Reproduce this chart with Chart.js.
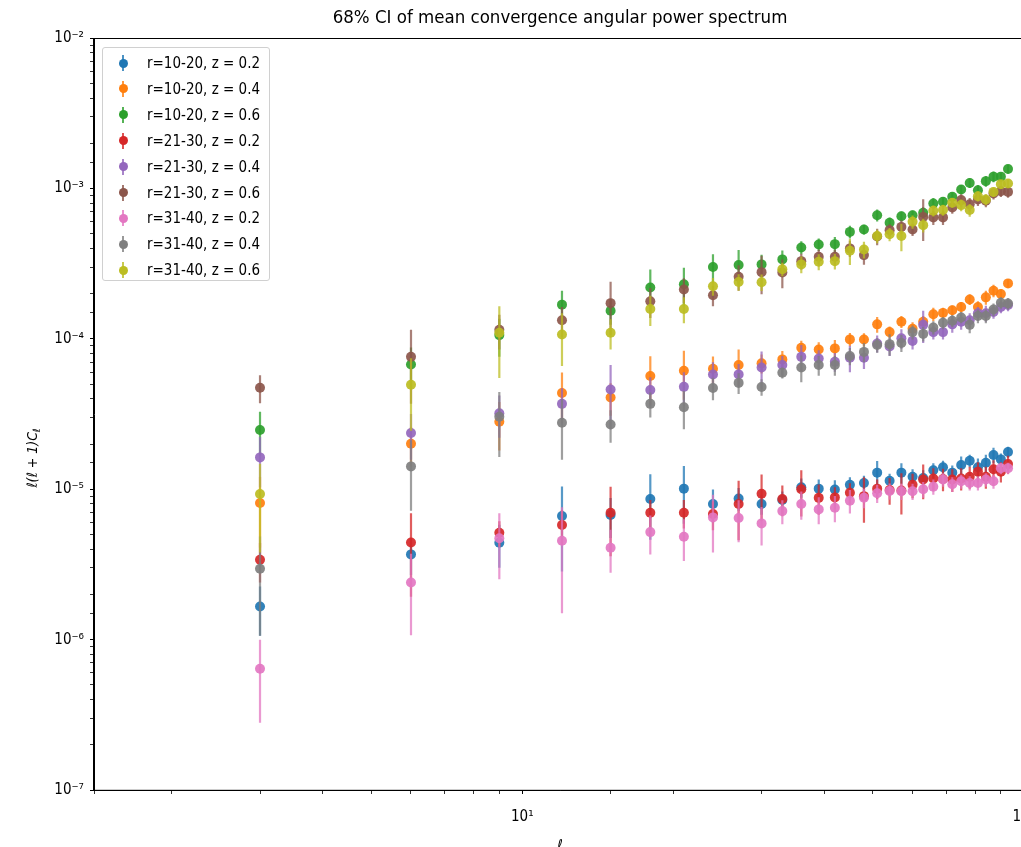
<!DOCTYPE html>
<html>
<head>
<meta charset="utf-8">
<script src="https://cdn.jsdelivr.net/npm/chart.js@4.4.0/dist/chart.umd.min.js"></script>
<style>
  html, body { margin: 0; padding: 0; background: #fff; overflow: hidden; }
  #wrap { position: relative; width: 1040px; height: 855px; }
  #legend { position: absolute; left: 102px; top: 47px; width: 166px; height: 232px;
            border: 1px solid #d0d0d0; border-radius: 3px; background: rgba(255,255,255,0.8);
            font: 15px 'DejaVu Sans Condensed', 'DejaVu Sans', sans-serif; color: #000; }
  .row { position: absolute; left: 0; width: 166px; height: 20px; line-height: 20px; }
  .bar { position: absolute; left: 19px; top: 2px; width: 2px; height: 16px; }
  .dot { position: absolute; left: 15.5px; top: 5.5px; width: 9px; height: 9px; border-radius: 50%; }
  .txt { position: absolute; left: 44px; top: 0; white-space: nowrap; }
</style>
</head>
<body>
<div id="wrap">
  <canvas id="c" width="1040" height="855"></canvas>
  <div id="legend"></div>
</div>
<script>
// multipoles
const ell = [3, 6, 9, 12, 15, 18, 21, 24, 27, 30, 33, 36, 39, 42, 45, 48, 51, 54, 57, 60, 63, 66, 69, 72, 75, 78, 81, 84, 87, 90, 93];

// r=10-20
const r1020_z02 = [1.66e-6, 3.69e-6, 4.41e-6, 6.64e-6, 6.75e-6, 8.61e-6, 1.01e-5, 7.98e-6, 8.69e-6, 7.98e-6, 8.48e-6, 1.03e-5, 1.01e-5, 9.97e-6, 1.07e-5, 1.10e-5, 1.29e-5, 1.14e-5, 1.29e-5, 1.21e-5, 1.19e-5, 1.34e-5, 1.40e-5, 1.29e-5, 1.45e-5, 1.55e-5, 1.40e-5, 1.50e-5, 1.69e-5, 1.58e-5, 1.77e-5];
const r1020_z02_err = [0.6e-6, 1.0e-6, 1.4e-6, 3.8e-6, 2.0e-6, 4.0e-6, 4.2e-6, 2.0e-6, 1.5e-6, 1.2e-6, 1.2e-6, 1.5e-6, 1.5e-6, 1.5e-6, 1.3e-6, 1.3e-6, 2.5e-6, 1.3e-6, 2.0e-6, 1.5e-6, 1.5e-6, 1.5e-6, 1.5e-6, 1.5e-6, 2.0e-6, 1.5e-6, 2.0e-6, 2.0e-6, 2.0e-6, 1.5e-6, 1.5e-6];
const r1020_z04 = [8.1e-6, 2.01e-5, 2.81e-5, 4.37e-5, 4.08e-5, 5.66e-5, 6.14e-5, 6.33e-5, 6.70e-5, 6.88e-5, 7.31e-5, 8.73e-5, 8.51e-5, 8.65e-5, 9.93e-5, 9.9e-5, 1.25e-4, 1.11e-4, 1.30e-4, 1.17e-4, 1.30e-4, 1.46e-4, 1.49e-4, 1.55e-4, 1.63e-4, 1.83e-4, 1.63e-4, 1.89e-4, 2.09e-4, 1.99e-4, 2.34e-4];
const r1020_z04_err = [4e-6, 6e-6, 1e-5, 1.6e-5, 1e-5, 2e-5, 2.2e-5, 1.3e-5, 1.8e-5, 1e-5, 1e-5, 1e-5, 1e-5, 1.2e-5, 1e-5, 1e-5, 1.5e-5, 1e-5, 1.2e-5, 1.2e-5, 1.2e-5, 1.5e-5, 1.2e-5, 1.2e-5, 1.3e-5, 1.5e-5, 1.5e-5, 2e-5, 2e-5, 1.5e-5, 1.5e-5];
const r1020_z06 = [2.48e-5, 6.76e-5, 1.06e-4, 1.69e-4, 1.54e-4, 2.20e-4, 2.31e-4, 3.01e-4, 3.10e-4, 3.13e-4, 3.38e-4, 4.06e-4, 4.25e-4, 4.27e-4, 5.15e-4, 5.34e-4, 6.65e-4, 5.92e-4, 6.55e-4, 6.65e-4, 6.9e-4, 7.96e-4, 8.17e-4, 8.81e-4, 9.86e-4, 1.09e-3, 9.75e-4, 1.12e-3, 1.20e-3, 1.20e-3, 1.35e-3];
const r1020_z06_err = [8e-6, 2e-5, 3e-5, 4e-5, 3e-5, 7e-5, 6.6e-5, 6.5e-5, 8e-5, 5e-5, 5e-5, 4e-5, 4e-5, 5e-5, 5e-5, 4e-5, 6e-5, 5e-5, 5e-5, 5e-5, 6e-5, 7e-5, 6e-5, 6e-5, 7e-5, 8e-5, 8e-5, 9e-5, 1e-4, 8e-5, 9e-5];

// r=21-30
const r2130_z02 = [3.4e-6, 4.43e-6, 5.14e-6, 5.78e-6, 6.98e-6, 6.98e-6, 6.98e-6, 6.84e-6, 7.98e-6, 9.33e-6, 8.61e-6, 1.0e-5, 8.77e-6, 8.83e-6, 9.47e-6, 9.0e-6, 1.01e-5, 9.9e-6, 9.8e-6, 1.07e-5, 1.16e-5, 1.18e-5, 1.17e-5, 1.16e-5, 1.18e-5, 1.21e-5, 1.31e-5, 1.21e-5, 1.36e-5, 1.31e-5, 1.47e-5];
const r2130_z02_err = [1e-6, 2.5e-6, 1e-6, 1.5e-6, 3.4e-6, 1.5e-6, 1.5e-6, 1.5e-6, 3.4e-6, 3.2e-6, 2e-6, 3.4e-6, 2e-6, 1.5e-6, 1.5e-6, 3e-6, 1.5e-6, 2e-6, 3e-6, 2e-6, 3e-6, 2e-6, 2e-6, 2e-6, 2e-6, 2e-6, 2e-6, 2e-6, 2e-6, 2e-6, 2e-6];
const r2130_z04 = [1.63e-5, 2.37e-5, 3.2e-5, 3.7e-5, 4.61e-5, 4.57e-5, 4.80e-5, 5.8e-5, 5.81e-5, 6.46e-5, 6.70e-5, 7.60e-5, 7.41e-5, 7.05e-5, 7.5e-5, 7.5e-5, 9.33e-5, 8.9e-5, 1.01e-4, 9.7e-5, 1.24e-4, 1.11e-4, 1.11e-4, 1.25e-4, 1.30e-4, 1.33e-4, 1.48e-4, 1.48e-4, 1.51e-4, 1.63e-4, 1.68e-4];
const r2130_z04_err = [6e-6, 8e-6, 1e-5, 1e-5, 2.1e-5, 1e-5, 1.2e-5, 1.2e-5, 1e-5, 1.8e-5, 1e-5, 1.5e-5, 1e-5, 1e-5, 1.5e-5, 1.2e-5, 1.2e-5, 1.2e-5, 1.5e-5, 1.2e-5, 3e-5, 1.2e-5, 1.2e-5, 1.5e-5, 1.5e-5, 1.5e-5, 1.5e-5, 1.8e-5, 1.5e-5, 1.5e-5, 1.5e-5];
const r2130_z06 = [4.73e-5, 7.6e-5, 1.15e-4, 1.33e-4, 1.73e-4, 1.78e-4, 2.13e-4, 1.95e-4, 2.59e-4, 2.78e-4, 2.77e-4, 3.29e-4, 3.52e-4, 3.52e-4, 4.0e-4, 3.61e-4, 4.8e-4, 5.29e-4, 5.56e-4, 5.34e-4, 6.48e-4, 6.43e-4, 6.43e-4, 7.49e-4, 8.38e-4, 7.87e-4, 8.45e-4, 8.3e-4, 9.26e-4, 9.6e-4, 9.5e-4];
const r2130_z06_err = [1e-5, 3.9e-5, 3e-5, 3e-5, 6.7e-5, 4e-5, 4e-5, 3e-5, 5e-5, 8e-5, 6e-5, 4e-5, 4e-5, 4e-5, 5e-5, 5e-5, 6e-5, 5e-5, 6e-5, 5e-5, 2e-4, 7e-5, 7e-5, 7e-5, 8e-5, 8e-5, 8e-5, 8e-5, 8e-5, 8e-5, 8e-5];

// r=31-40
const r3140_z02 = [6.4e-7, 2.40e-6, 4.72e-6, 4.55e-6, 4.08e-6, 5.19e-6, 4.83e-6, 6.50e-6, 6.44e-6, 5.93e-6, 7.16e-6, 7.98e-6, 7.35e-6, 7.53e-6, 8.39e-6, 8.79e-6, 9.4e-6, 9.73e-6, 9.7e-6, 9.7e-6, 1.0e-5, 1.04e-5, 1.16e-5, 1.08e-5, 1.13e-5, 1.10e-5, 1.10e-5, 1.16e-5, 1.13e-5, 1.38e-5, 1.38e-5];
const r3140_z02_err = [3.6e-7, 1.33e-6, 2.2e-6, 3.05e-6, 1.3e-6, 1.5e-6, 1.5e-6, 2.7e-6, 2e-6, 1.7e-6, 1.3e-6, 1.7e-6, 1.5e-6, 1.5e-6, 1.5e-6, 1.3e-6, 1.3e-6, 1.2e-6, 1.2e-6, 1.2e-6, 1.2e-6, 1.2e-6, 1.2e-6, 1.2e-6, 1.2e-6, 1.2e-6, 1.2e-6, 1.2e-6, 1.2e-6, 1.2e-6, 1.2e-6];
const r3140_z04 = [2.96e-6, 1.42e-5, 3.04e-5, 2.77e-5, 2.70e-5, 3.70e-5, 3.51e-5, 4.71e-5, 5.10e-5, 4.79e-5, 5.96e-5, 6.46e-5, 6.7e-5, 6.70e-5, 7.69e-5, 8.2e-5, 9.1e-5, 9.23e-5, 9.4e-5, 1.11e-4, 1.08e-4, 1.19e-4, 1.28e-4, 1.32e-4, 1.39e-4, 1.24e-4, 1.42e-4, 1.42e-4, 1.57e-4, 1.74e-4, 1.72e-4];
const r3140_z04_err = [1.9e-6, 7e-6, 1.4e-5, 1.2e-5, 6.6e-6, 7e-6, 1e-5, 8e-6, 8e-6, 6e-6, 5e-6, 1.3e-5, 1e-5, 1e-5, 1e-5, 1.2e-5, 1e-5, 1.5e-5, 1.2e-5, 1.2e-5, 1.2e-5, 1.2e-5, 1.2e-5, 1.2e-5, 1.2e-5, 1.5e-5, 1.5e-5, 1.5e-5, 1.5e-5, 1.5e-5, 1.5e-5];
const r3140_z06 = [9.3e-6, 4.95e-5, 1.10e-4, 1.07e-4, 1.10e-4, 1.58e-4, 1.58e-4, 2.24e-4, 2.39e-4, 2.38e-4, 2.91e-4, 3.13e-4, 3.26e-4, 3.29e-4, 3.86e-4, 3.93e-4, 4.83e-4, 4.97e-4, 4.83e-4, 6.01e-4, 5.71e-4, 7.11e-4, 7.2e-4, 8.04e-4, 7.76e-4, 7.2e-4, 8.89e-4, 8.45e-4, 9.5e-4, 1.07e-3, 1.08e-3];
const r3140_z06_err = [5.5e-6, 2.5e-5, 5.5e-5, 4.1e-5, 2.5e-5, 3.6e-5, 3.1e-5, 3e-5, 3e-5, 3e-5, 3e-5, 4e-5, 4e-5, 4e-5, 7.6e-5, 5e-5, 5e-5, 5e-5, 1e-4, 6e-5, 6e-5, 6e-5, 6e-5, 6e-5, 7e-5, 7e-5, 7e-5, 7e-5, 7e-5, 7e-5, 7e-5];

const seriesLabels = ['r=10-20, z = 0.2', 'r=10-20, z = 0.4', 'r=10-20, z = 0.6',
                      'r=21-30, z = 0.2', 'r=21-30, z = 0.4', 'r=21-30, z = 0.6',
                      'r=31-40, z = 0.2', 'r=31-40, z = 0.4', 'r=31-40, z = 0.6'];
const seriesValues = [r1020_z02, r1020_z04, r1020_z06, r2130_z02, r2130_z04, r2130_z06, r3140_z02, r3140_z04, r3140_z06];
const seriesErrors = [r1020_z02_err, r1020_z04_err, r1020_z06_err, r2130_z02_err, r2130_z04_err, r2130_z06_err, r3140_z02_err, r3140_z04_err, r3140_z06_err];
// matplotlib tab10
const colors = ['31,119,180', '255,127,14', '44,160,44', '214,39,40', '148,103,189', '140,86,75', '227,119,194', '127,127,127', '188,189,34'];

const FONT = "'DejaVu Sans Condensed', 'DejaVu Sans', sans-serif";

// tick labels only at powers of ten, like 10⁻²
const sup = { '-': '⁻', '0': '⁰', '1': '¹', '2': '²', '3': '³', '4': '⁴', '5': '⁵', '6': '⁶', '7': '⁷', '8': '⁸', '9': '⁹' };
function powLabel(value) {
  const e = Math.log10(value);
  const r = Math.round(e);
  if (Math.abs(e - r) > 1e-6) return '';
  return '10' + String(r).split('').map(c => sup[c]).join('');
}

// vertical error bars drawn just before each series' markers
const errorBars = {
  id: 'errorBars',
  beforeDatasetDraw(chart, args) {
    const ds = chart.data.datasets[args.index];
    const y = chart.scales.y;
    const area = chart.chartArea;
    const ctx = chart.ctx;
    ctx.save();
    ctx.beginPath();
    ctx.rect(area.left, area.top, area.right - area.left, area.bottom - area.top);
    ctx.clip();
    ctx.strokeStyle = ds.barColor;
    ctx.lineWidth = 2.2;
    args.meta.data.forEach((pt, i) => {
      const v = ds.data[i].y, e = ds.errs[i];
      const lo = v - e > 0 ? y.getPixelForValue(v - e) : area.bottom;
      const hi = y.getPixelForValue(v + e);
      ctx.beginPath();
      ctx.moveTo(pt.x, lo);
      ctx.lineTo(pt.x, hi);
      ctx.stroke();
    });
    ctx.restore();
  }
};

// full box around the axes + the y label with its subscript
const frame = {
  id: 'frame',
  afterDraw(chart) {
    const a = chart.chartArea;
    const ctx = chart.ctx;
    ctx.save();
    ctx.strokeStyle = '#000';
    ctx.lineWidth = 1;
    ctx.strokeRect(Math.round(a.left) - 0.5, Math.round(a.top) + 0.5, a.right - a.left, a.bottom - a.top);

    ctx.translate(33, 458);
    ctx.rotate(-Math.PI / 2);
    ctx.fillStyle = '#000';
    ctx.textBaseline = 'middle';
    ctx.font = 'italic 14px ' + FONT;
    const main = 'ℓ(ℓ + 1)C';
    const w1 = ctx.measureText(main).width;
    ctx.font = 'italic 10px ' + FONT;
    const w2 = ctx.measureText('ℓ').width;
    let x = -(w1 + w2) / 2;
    ctx.font = 'italic 14px ' + FONT;
    ctx.fillText(main, x, 0);
    ctx.font = 'italic 10px ' + FONT;
    ctx.fillText('ℓ', x + w1, 4);
    ctx.restore();
  }
};

const datasets = seriesValues.map((vals, s) => ({
  label: seriesLabels[s],
  data: ell.map((l, i) => ({ x: l, y: vals[i] })),
  errs: seriesErrors[s],
  barColor: 'rgba(' + colors[s] + ',0.75)',
  backgroundColor: 'rgba(' + colors[s] + ',0.92)',
  borderWidth: 0,
  pointRadius: 5,
  showLine: false,
  order: -s
}));

new Chart(document.getElementById('c'), {
  type: 'scatter',
  data: { datasets: datasets },
  options: {
    responsive: false,
    animation: false,
    events: [],
    layout: { padding: { left: 0, right: 10, top: 0, bottom: 0 } },
    plugins: {
      legend: { display: false },
      tooltip: { enabled: false },
      title: {
        display: true,
        text: '68% CI of mean convergence angular power spectrum',
        fullSize: false,
        color: '#000',
        font: { family: FONT, size: 18.5, weight: 'normal' },
        padding: { top: 7, bottom: 9 }
      }
    },
    scales: {
      x: {
        type: 'logarithmic',
        min: 1.4,
        max: 101,
        grid: { drawOnChartArea: false, drawTicks: true, tickLength: 4, tickColor: '#000',
                tickWidth: (c) => (c.tick && powLabel(c.tick.value) ? 1 : 0.8) },
        border: { display: true, color: '#000', width: 1 },
        ticks: { autoSkip: false, maxRotation: 0, padding: 14, color: '#000',
                 font: { family: FONT, size: 15 }, callback: powLabel },
        title: { display: true, text: 'ℓ', color: '#000', font: { family: FONT, size: 15, style: 'italic' },
                 padding: { top: 0, bottom: 0 } },
        afterFit: (s) => { s.height = 65; }
      },
      y: {
        type: 'logarithmic',
        min: 1e-7,
        max: 1e-2,
        grid: { drawOnChartArea: false, drawTicks: true, tickLength: 4, tickColor: '#000',
                tickWidth: (c) => (c.tick && powLabel(c.tick.value) ? 1 : 0.8) },
        border: { display: true, color: '#000', width: 1 },
        ticks: { autoSkip: false, padding: 6, color: '#000',
                 font: { family: FONT, size: 15 }, callback: powLabel },
        afterFit: (s) => { s.width = 94; }
      }
    }
  },
  plugins: [errorBars, frame]
});

// legend box, same look as matplotlib's errorbar legend
const legend = document.getElementById('legend');
seriesLabels.forEach((name, s) => {
  const row = document.createElement('div');
  row.className = 'row';
  row.style.top = (5 + 25.9 * s) + 'px';
  row.innerHTML = '<span class="bar" style="background:rgba(' + colors[s] + ',0.8)"></span>' +
                  '<span class="dot" style="background:rgb(' + colors[s] + ')"></span>' +
                  '<span class="txt">' + name + '</span>';
  legend.appendChild(row);
});
</script>
</body>
</html>
